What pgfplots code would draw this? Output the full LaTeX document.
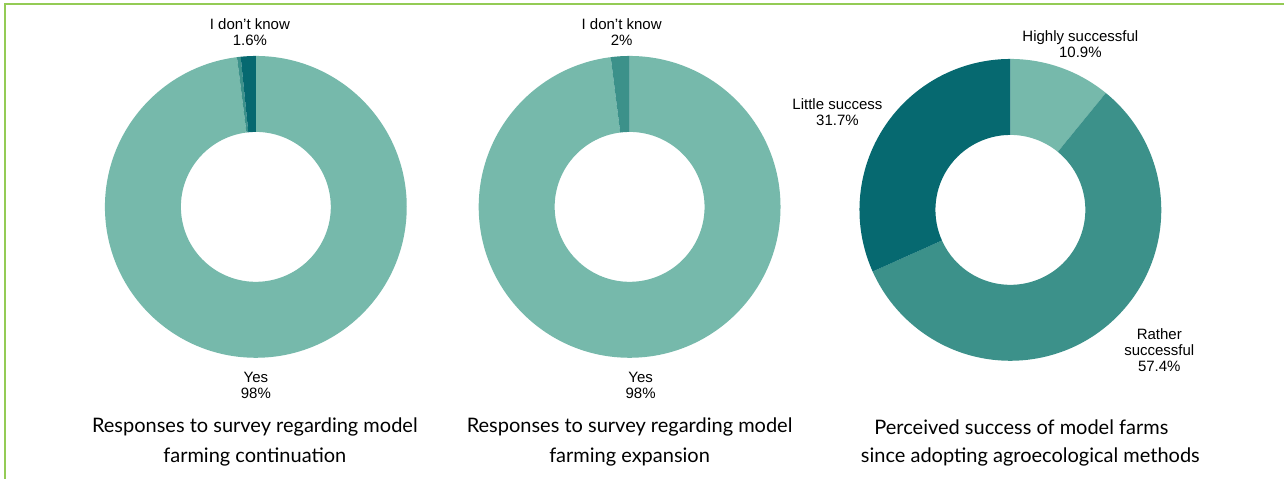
\documentclass[border=0pt]{standalone}
\usepackage{pgfplots}
\usepackage{pgfplotstable}
\pgfplotsset{compat=1.18}
\usepackage{fontspec}
\setmainfont{Lato}
\newfontfamily\arial{Liberation Sans}

\definecolor{light}{HTML}{76B9AB}
\definecolor{mid}{HTML}{3C918A}
\definecolor{dark}{HTML}{066970}
\definecolor{frame}{HTML}{94CB55}

% shares in percent, clockwise from twelve o'clock
\pgfplotstableread{
value colour
98.0 light
0.4 mid
1.6 dark
}\continuation
\pgfplotstableread{
value colour
98.0 light
2.0 mid
}\expansion
\pgfplotstableread{
value colour
10.9 light
57.4 mid
31.7 dark
}\success

% #1 table, #2 #3 centre (axis units = pt)
\newcommand\donut[3]{%
  \gdef\cum{0}%
  \pgfplotstableforeachcolumnelement{value}\of#1\as\val{%
    \pgfplotstablegetelem{\pgfplotstablerow}{colour}\of#1%
    \let\col\pgfplotsretval
    \pgfmathsetmacro\aone{90-3.6*\cum}%
    \pgfmathsetmacro\atwo{90-3.6*(\cum+\val)}%
    \pgfmathsetmacro\xout{#2+151*cos(\aone)}%
    \pgfmathsetmacro\yout{#3+151*sin(\aone)}%
    \pgfmathsetmacro\xin{#2+75*cos(\atwo)}%
    \pgfmathsetmacro\yin{#3+75*sin(\atwo)}%
    \edef\slice{\noexpand\fill[\col] (axis cs:\xout,\yout)
      arc[start angle=\aone, end angle=\atwo, radius=151pt]
      -- (axis cs:\xin,\yin)
      arc[start angle=\atwo, end angle=\aone, radius=75pt] -- cycle;}%
    \slice
    \pgfmathsetmacro\newcum{\cum+\val}\xdef\cum{\newcum}%
  }%
}

\begin{document}
\begin{tikzpicture}[
  lbl/.style={font={\arial\fontsize{15}{16}\selectfont}, align=center, inner sep=0pt},
  ttl/.style={font={\fontsize{20}{30}\selectfont}, align=center, inner sep=0pt},
]
\begin{axis}[
  width=1285pt, height=479pt, scale only axis,
  xmin=0, xmax=1285, ymin=0, ymax=479,
  hide axis, clip=false,
]
\fill[white] (axis cs:0,0) rectangle (axis cs:1285,479);
\draw[frame, line width=1.6pt] (axis cs:5,0) -- (axis cs:5,475) -- (axis cs:1285,475);

\donut{\continuation}{256}{272}
\donut{\expansion}{630}{272}
\donut{\success}{1011}{269}

\node[lbl] at (axis cs:250,446.5) {I don’t know\\1.6\%};
\node[lbl] at (axis cs:256,93) {Yes\\98\%};
\node[lbl] at (axis cs:622,446.5) {I don’t know\\2\%};
\node[lbl] at (axis cs:641,93) {Yes\\98\%};
\node[lbl] at (axis cs:1081,435) {Highly successful\\10.9\%};
\node[lbl] at (axis cs:838,367) {Little success\\31.7\%};
\node[lbl] at (axis cs:1160,129) {Rather\\successful\\57.4\%};

\node[ttl] at (axis cs:255,37) {Responses to survey regarding model\\farming continuation};
\node[ttl] at (axis cs:630,37) {Responses to survey regarding model\\farming expansion};
\node[ttl] at (axis cs:1022,52) {Perceived success of model farms};
\node[ttl] at (axis cs:1031,22) {since adopting agroecological methods};
\end{axis}
\end{tikzpicture}
\end{document}
